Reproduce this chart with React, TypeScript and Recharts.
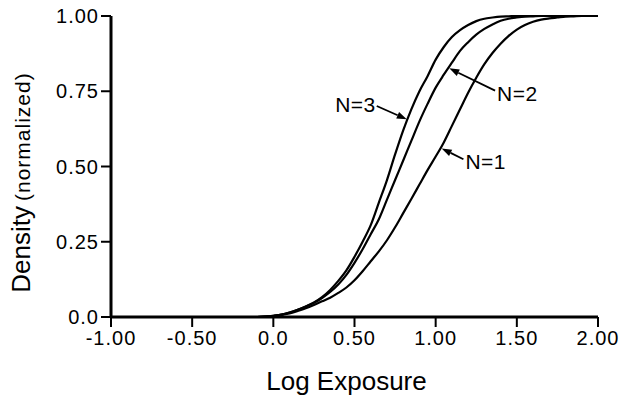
import { LineChart, Line, XAxis, YAxis, ReferenceLine } from 'recharts'

const logExposure = [
  -1.0, -0.5, -0.1, -0.05,
  0.0, 0.05, 0.1, 0.15, 0.2, 0.25, 0.3, 0.35, 0.4, 0.45,
  0.5, 0.55, 0.6, 0.65, 0.7, 0.75, 0.8, 0.85, 0.9, 0.95,
  1.0, 1.05, 1.1, 1.15, 1.2, 1.25, 1.3, 1.35, 1.4, 1.45,
  1.5, 1.55, 1.6, 1.65, 1.7, 1.75, 1.8, 1.85, 1.9, 1.95, 2.0,
]

const densityN1 = [
  0, 0, 0, 0.001,
  0.003, 0.007, 0.012, 0.02, 0.029, 0.04, 0.052, 0.064, 0.08, 0.098,
  0.122, 0.152, 0.185, 0.218, 0.255, 0.298, 0.345, 0.392, 0.44, 0.488,
  0.533, 0.58, 0.635, 0.69, 0.745, 0.795, 0.84, 0.877, 0.908, 0.934,
  0.955, 0.97, 0.981, 0.988, 0.992, 0.995, 0.998, 0.999, 1, 1, 1,
]

const densityN2 = [
  0, 0, 0, 0.001,
  0.004, 0.008, 0.015, 0.024, 0.035, 0.047, 0.063, 0.083, 0.108, 0.14,
  0.18, 0.225, 0.275, 0.325, 0.39, 0.455, 0.52, 0.585, 0.65, 0.708,
  0.762, 0.805, 0.845, 0.884, 0.913, 0.938, 0.957, 0.972, 0.984, 0.991,
  0.995, 0.998, 0.999, 1, 1, 1, 1, 1, 1, 1, 1,
]

const densityN3 = [
  0, 0, 0, 0.001,
  0.004, 0.008, 0.015, 0.024, 0.035, 0.048, 0.066, 0.09, 0.12, 0.155,
  0.2, 0.25, 0.305, 0.38, 0.455, 0.54, 0.62, 0.69, 0.75, 0.8,
  0.855, 0.897, 0.93, 0.953, 0.97, 0.983, 0.991, 0.995, 0.998, 0.999,
  1, 1, 1, 1, 1, 1, 1, 1, 1, 1, 1,
]

const xTicks = [-1, -0.5, 0, 0.5, 1, 1.5, 2]
const xTickLabels = ['-1.00', '-0.50', '0.0', '0.50', '1.00', '1.50', '2.00']
const yTicks = [0, 0.25, 0.5, 0.75, 1]
const yTickLabels = ['0.0', '0.25', '0.50', '0.75', '1.00']

// annotation arrows: label, tail and tip in data units
const arrowLabels = ['N=3', 'N=2', 'N=1']
const arrowTails = [[0.637, 0.701], [1.366, 0.752], [1.171, 0.524]]
const arrowTips = [[0.822, 0.657], [1.084, 0.826], [1.037, 0.56]]

const data = logExposure.map((x, i) => ({
  x,
  n1: densityN1[i],
  n2: densityN2[i],
  n3: densityN3[i],
}))

const font = '"Liberation Sans", Arial, Helvetica, sans-serif'

function arrowShape(label: string) {
  return (props: any) => {
    const { x1, y1, x2, y2 } = props
    const dx = x2 - x1
    const dy = y2 - y1
    const len = Math.sqrt(dx * dx + dy * dy) || 1
    const ux = dx / len
    const uy = dy / len
    const hl = 10
    const hw = 3.5
    const bx = x2 - ux * hl
    const by = y2 - uy * hl
    const pts = `${x2},${y2} ${bx - uy * hw},${by + ux * hw} ${bx + uy * hw},${by - ux * hw}`
    const left = label === 'N=3'
    return (
      <g>
        <line x1={x1} y1={y1} x2={bx} y2={by} stroke="#000" strokeWidth={1.8} />
        <polygon points={pts} fill="#000" />
        <text
          x={left ? x1 - 1 : x1 + 2}
          y={left ? y1 + 6 : y1 + 10}
          textAnchor={left ? 'end' : 'start'}
          fontSize={21}
          letterSpacing={0.5}
          fontFamily={font}
          fill="#000"
        >
          {label}
        </text>
      </g>
    )
  }
}

export default function App() {
  return (
    <div style={{ position: 'absolute', left: 0, top: 0, width: 622, height: 397, background: '#fff' }}>
      <LineChart width={622} height={397} data={data} margin={{ top: 16, right: 24, bottom: 0, left: 0 }}>
        <XAxis
          dataKey="x"
          type="number"
          domain={[-1, 2]}
          ticks={xTicks}
          height={80}
          tickSize={10}
          tickMargin={4}
          axisLine={{ stroke: '#000', strokeWidth: 3 }}
          tickLine={{ stroke: '#000', strokeWidth: 2 }}
          tick={{ fill: '#000', fontSize: 20, fontFamily: font, letterSpacing: 1 }}
          tickFormatter={(v: number) => xTickLabels[xTicks.indexOf(v)]}
          label={{
            content: (p: any) => {
              const vb = p.viewBox
              return (
                <text x={vb.x + vb.width / 2 - 8} y={vb.y + 73} textAnchor="middle" fontSize={26} fontFamily={font} fill="#000">
                  Log Exposure
                </text>
              )
            },
          }}
        />
        <YAxis
          type="number"
          domain={[0, 1]}
          ticks={yTicks}
          width={111}
          tickSize={10}
          tickMargin={2}
          axisLine={{ stroke: '#000', strokeWidth: 3 }}
          tickLine={{ stroke: '#000', strokeWidth: 2 }}
          tick={{ fill: '#000', fontSize: 20, fontFamily: font, letterSpacing: 1 }}
          tickFormatter={(v: number) => yTickLabels[yTicks.indexOf(v)]}
          label={{
            content: (p: any) => {
              const vb = p.viewBox
              const cx = 30
              const cy = vb.y + vb.height / 2 + 16
              return (
                <text x={cx} y={cy} transform={`rotate(-90, ${cx}, ${cy})`} textAnchor="middle" fontFamily={font} fill="#000">
                  <tspan fontSize={26}>Density</tspan>
                  <tspan fontSize={21} dx={5} letterSpacing={1}>(normalized)</tspan>
                </text>
              )
            },
          }}
        />
        <Line type="monotone" dataKey="n1" stroke="#000" strokeWidth={2.2} dot={false} isAnimationActive={false} />
        <Line type="monotone" dataKey="n2" stroke="#000" strokeWidth={2.2} dot={false} isAnimationActive={false} />
        <Line type="monotone" dataKey="n3" stroke="#000" strokeWidth={2.2} dot={false} isAnimationActive={false} />
        {arrowLabels.map((label, i) => (
          <ReferenceLine
            key={label}
            segment={[
              { x: arrowTails[i][0], y: arrowTails[i][1] },
              { x: arrowTips[i][0], y: arrowTips[i][1] },
            ]}
            ifOverflow="visible"
            shape={arrowShape(label)}
          />
        ))}
      </LineChart>
    </div>
  )
}
